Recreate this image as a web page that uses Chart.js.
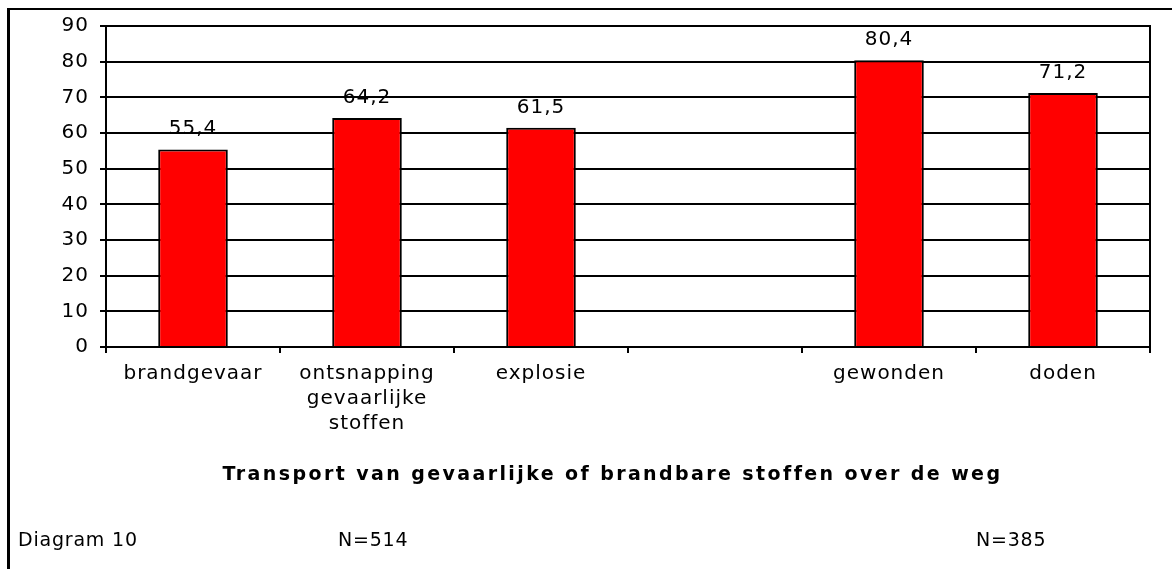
<!DOCTYPE html>
<html>
<head>
<meta charset="utf-8">
<script src="https://cdn.jsdelivr.net/npm/chart.js@4/dist/chart.umd.min.js"></script>
<style>
  body { margin: 0; background: #fff; }
  #wrap { position: relative; width: 1172px; height: 569px; overflow: hidden; }
  #frame { position: absolute; left: 7px; top: 8px; width: 1180px; height: 600px;
           border-left: 3px solid #000; border-top: 2px solid #000; }
  canvas { position: absolute; left: 0; top: 0; }
  .txt { position: absolute; font-family: "DejaVu Sans", Verdana, sans-serif; color: #000;
         font-size: 19px; letter-spacing: 0.8px; white-space: nowrap; }
  #title { font-weight: bold; letter-spacing: 2.4px; left: 0; width: 1225px; text-align: center; top: 462px; }
</style>
</head>
<body>
<div id="wrap">
  <div id="frame"></div>
  <canvas id="myChart" width="1172" height="569"></canvas>
  <div class="txt" id="title"></div>
  <div class="txt" style="left:18px; top:528px;" id="diag"></div>
  <div class="txt" style="left:338px; top:528px;" id="n1"></div>
  <div class="txt" style="left:976px; top:528px;" id="n2"></div>
</div>
<script>
// chart data
var categories = ['brandgevaar', ['ontsnapping', 'gevaarlijke', 'stoffen'], 'explosie', '', 'gewonden', 'doden'];
var percentages = [55.4, 64.2, 61.5, null, 80.4, 71.2];
var yMin = 0, yMax = 90, yStep = 10;
var chartTitle = 'Transport van gevaarlijke of brandbare stoffen over de weg';
var diagramName = 'Diagram 10';
var sampleSizes = ['N=514', 'N=385'];

document.getElementById('title').textContent = chartTitle;
document.getElementById('diag').textContent = diagramName;
document.getElementById('n1').textContent = sampleSizes[0];
document.getElementById('n2').textContent = sampleSizes[1];

var fontFamily = '"DejaVu Sans", Verdana, sans-serif';
var spacing = '1px';

// letter spacing gets lost when the canvas resets, so set it again
var spacingPlugin = {
  id: 'spacing',
  beforeLayout: function (chart) { chart.ctx.letterSpacing = spacing; },
  beforeDraw: function (chart) { chart.ctx.letterSpacing = spacing; }
};

// value above each bar + right border of plot area
var labelPlugin = {
  id: 'barLabels',
  afterDatasetsDraw: function (chart) {
    var ctx = chart.ctx;
    var meta = chart.getDatasetMeta(0);
    ctx.save();
    ctx.font = '20px ' + fontFamily;
    ctx.fillStyle = '#000';
    ctx.textAlign = 'center';
    ctx.textBaseline = 'alphabetic';
    meta.data.forEach(function (bar, i) {
      var v = percentages[i];
      if (v === null) return;
      ctx.fillText(v.toFixed(1).replace('.', ','), bar.x, bar.y - 15);
    });
    var a = chart.chartArea;
    ctx.strokeStyle = '#000';
    ctx.lineWidth = 2;
    ctx.beginPath();
    ctx.moveTo(a.right, a.top - 1);
    ctx.lineTo(a.right, a.bottom + 6);
    ctx.stroke();
    ctx.restore();
  }
};

var ctx = document.getElementById('myChart').getContext('2d');
var chart = new Chart(ctx, {
  type: 'bar',
  data: {
    labels: categories,
    datasets: [{
      data: percentages,
      backgroundColor: '#ff0000',
      borderColor: '#000',
      borderWidth: 2,
      borderSkipped: 'bottom',
      categoryPercentage: 1,
      barPercentage: 0.4
    }]
  },
  plugins: [spacingPlugin, labelPlugin],
  options: {
    responsive: false,
    animation: false,
    devicePixelRatio: 1,
    layout: { padding: { left: 0, top: 26, right: 22, bottom: 122 } },
    plugins: { legend: { display: false }, tooltip: { enabled: false } },
    scales: {
      x: {
        afterFit: function (s) { s.height = 100; },
        grid: { drawOnChartArea: false, color: '#000', tickColor: '#000', lineWidth: 2, tickLength: 6 },
        border: { color: '#000', width: 2 },
        ticks: {
          color: '#000', padding: 8, maxRotation: 0, autoSkip: false,
          font: { family: fontFamily, size: 20, lineHeight: 1.25 }
        }
      },
      y: {
        min: yMin, max: yMax,
        afterFit: function (s) { s.width = 106; },
        grid: { color: '#000', lineWidth: 2, tickLength: 6 },
        border: { color: '#000', width: 2 },
        ticks: {
          stepSize: yStep, color: '#000', padding: 11,
          font: { family: fontFamily, size: 20 }
        }
      }
    }
  }
});
</script>
</body>
</html>
